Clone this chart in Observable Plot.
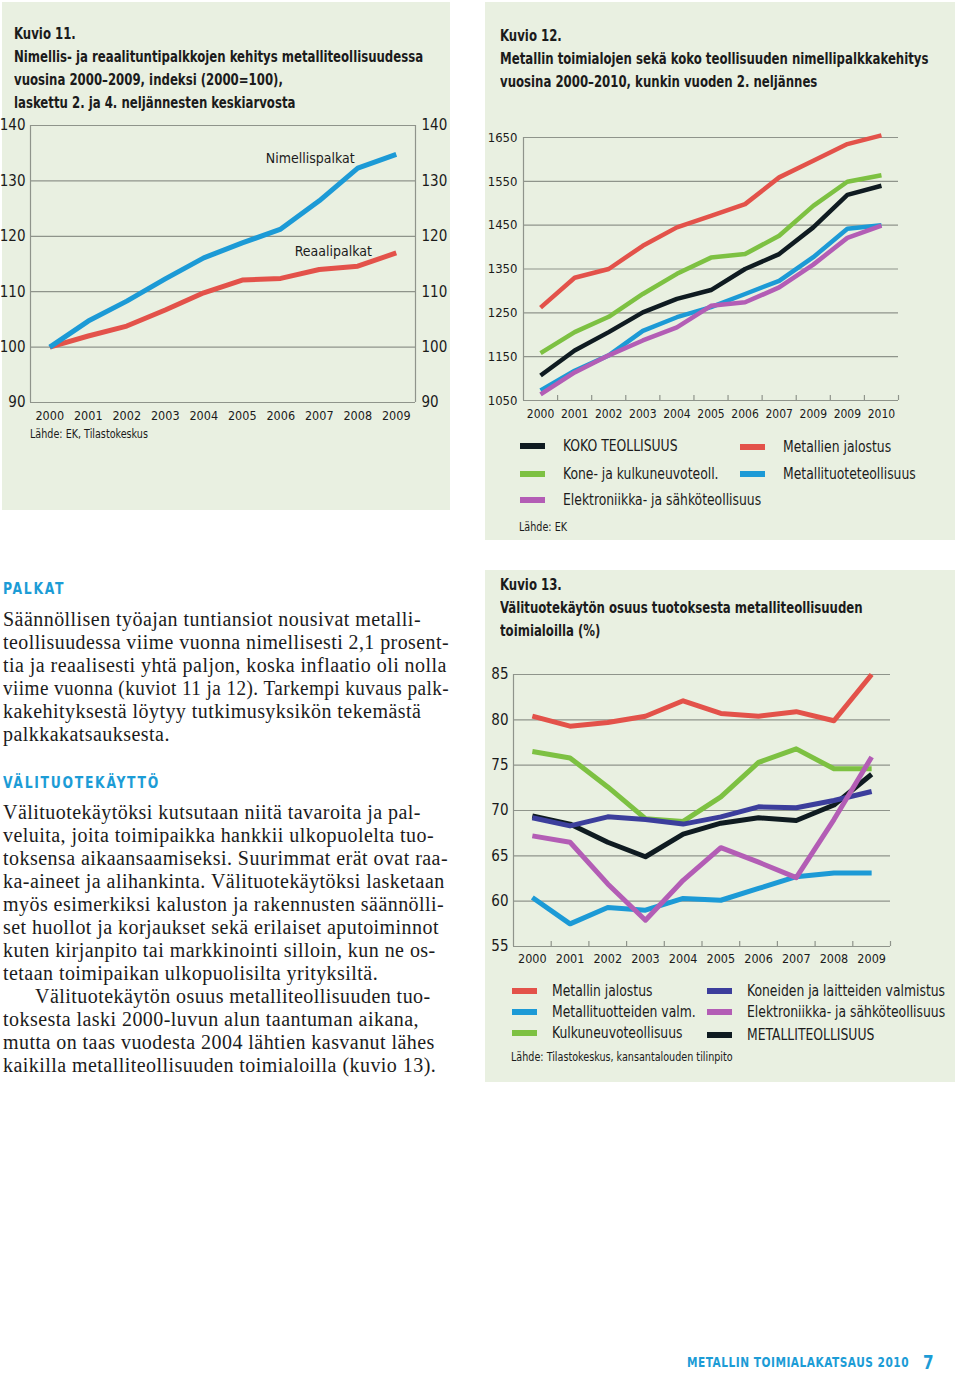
<!DOCTYPE html>
<html><head><meta charset="utf-8">
<script src="https://cdn.jsdelivr.net/npm/d3@7"></script>
<script src="https://cdn.jsdelivr.net/npm/@observablehq/plot@0.6"></script>
<style>
html,body{margin:0;padding:0}
body{width:960px;height:1377px;position:relative;background:#fff;overflow:hidden}
.panel{position:absolute;background:#e9f0e1}
.abs{position:absolute;white-space:nowrap;transform-origin:left top}
.narrow{font-family:"Liberation Sans Narrow","DejaVu Sans Condensed","Noto Sans",sans-serif}
.title{font-weight:bold;font-size:16px;line-height:23px;color:#1b1b1b;transform:scaleX(0.815)}
.src{font-size:12px;color:#1b1b1b;line-height:16px;transform:scaleX(0.89)}
.leg{font-size:16px;color:#1b1b1b;line-height:18px;transform:scaleX(0.86)}
.sw{position:absolute;width:25px;height:6px}
.head{font-weight:bold;font-size:16px;letter-spacing:2px;color:#1c9cd6;line-height:20px;transform:scaleX(0.86)}
.body{font-family:"Liberation Serif","DejaVu Serif",serif;font-size:20px;letter-spacing:0.45px;line-height:23px;color:#1b1b1b}
.ln{display:block;width:max-content;transform-origin:left top;height:23px}
.plot{position:absolute}
</style></head>
<body>
<div class="panel" style="left:2px;top:2px;width:448px;height:508px"></div>
<div class="panel" style="left:485px;top:2px;width:470px;height:538px"></div>
<div class="panel" style="left:485px;top:570px;width:470px;height:512px"></div>

<div class="abs narrow title" style="left:14px;top:22px">Kuvio 11.<br>Nimellis- ja reaalituntipalkkojen kehitys metalliteollisuudessa<br>vuosina 2000–2009, indeksi (2000=100),<br>laskettu 2. ja 4. neljännesten keskiarvosta</div>
<div id="c11" class="plot" style="left:2px;top:115px"></div>
<div class="abs narrow src" style="left:30px;top:426px">Lähde: EK, Tilastokeskus</div>

<div class="abs narrow title" style="left:500px;top:24px">Kuvio 12.<br>Metallin toimialojen sekä koko teollisuuden nimellipalkkakehitys<br>vuosina 2000–2010, kunkin vuoden 2. neljännes</div>
<div id="c12" class="plot" style="left:485px;top:125px"></div>
<div id="leg12"></div>
<div class="abs narrow src" style="left:519px;top:519px">Lähde: EK</div>

<div class="abs narrow title" style="left:500px;top:573px">Kuvio 13.<br>Välituotekäytön osuus tuotoksesta metalliteollisuuden<br>toimialoilla (%)</div>
<div id="c13" class="plot" style="left:485px;top:662px"></div>
<div id="leg13"></div>
<div class="abs narrow src" style="left:511px;top:1049px">Lähde: Tilastokeskus, kansantalouden tilinpito</div>

<div class="abs narrow head" style="left:3px;top:579px">PALKAT</div>
<div class="abs body" style="left:3px;top:608px">
<span class="ln">Säännöllisen työajan tuntiansiot nousivat metalli-</span>
<span class="ln">teollisuudessa viime vuonna nimellisesti 2,1 prosent-</span>
<span class="ln">tia ja reaalisesti yhtä paljon, koska inflaatio oli nolla</span>
<span class="ln">viime vuonna (kuviot 11 ja 12). Tarkempi kuvaus palk-</span>
<span class="ln">kakehityksestä löytyy tutkimusyksikön tekemästä</span>
<span class="ln">palkkakatsauksesta.</span>
</div>
<div class="abs narrow head" style="left:3px;top:773px">VÄLITUOTEKÄYTTÖ</div>
<div class="abs body" style="left:3px;top:801px">
<span class="ln">Välituotekäytöksi kutsutaan niitä tavaroita ja pal-</span>
<span class="ln">veluita, joita toimipaikka hankkii ulkopuolelta tuo-</span>
<span class="ln">toksensa aikaansaamiseksi. Suurimmat erät ovat raa-</span>
<span class="ln">ka-aineet ja alihankinta. Välituotekäytöksi lasketaan</span>
<span class="ln">myös esimerkiksi kaluston ja rakennusten säännölli-</span>
<span class="ln">set huollot ja korjaukset sekä erilaiset aputoiminnot</span>
<span class="ln">kuten kirjanpito tai markkinointi silloin, kun ne os-</span>
<span class="ln">tetaan toimipaikan ulkopuolisilta yrityksiltä.</span>
<span class="ln" style="padding-left:32px">Välituotekäytön osuus metalliteollisuuden tuo-</span>
<span class="ln">toksesta laski 2000-luvun alun taantuman aikana,</span>
<span class="ln">mutta on taas vuodesta 2004 lähtien kasvanut lähes</span>
<span class="ln">kaikilla metalliteollisuuden toimialoilla (kuvio 13).</span>
</div>

<div class="abs narrow" style="left:687px;top:1354px;font-weight:bold;font-size:14px;letter-spacing:0.6px;color:#1c9cd6;transform:scaleX(0.84)">METALLIN TOIMIALAKATSAUS 2010</div>
<div class="abs narrow" style="left:923px;top:1350px;font-weight:bold;font-size:20px;color:#1c9cd6;transform:scaleX(0.85)">7</div>

<script>
// ---------- Kuvio 11 ----------
const years11 = [2000,2001,2002,2003,2004,2005,2006,2007,2008,2009];
const nimellispalkat = [100,104.7,108.3,112.3,116.1,118.8,121.3,126.4,132.3,134.8];
const reaalipalkat = [100,102.0,103.8,106.7,109.8,112.1,112.4,114.0,114.6,117.0];
const yTicks11 = [90,100,110,120,130,140];

// ---------- Kuvio 12 ----------
const years12 = [2000,2001,2002,2003,2004,2005,2006,2007,2008,2009,2010];
const xLabels12 = ["2000","2001","2002","2003","2004","2005","2006","2007","2009","2009","2010"];
const kokoTeollisuus = [1107,1164,1206,1251,1282,1302,1350,1384,1445,1519,1540];
const metallienJalostus = [1262,1330,1350,1403,1445,1471,1498,1559,1597,1635,1655];
const koneJaKulkuneuvo = [1158,1206,1241,1293,1339,1376,1384,1426,1494,1549,1564];
const metallituote = [1073,1118,1153,1209,1240,1263,1293,1323,1377,1442,1450];
const elektroniikka12 = [1064,1114,1153,1187,1217,1266,1274,1308,1360,1421,1449];
const yTicks12 = [1050,1150,1250,1350,1450,1550,1650];

// ---------- Kuvio 13 ----------
const years13 = [2000,2001,2002,2003,2004,2005,2006,2007,2008,2009];
const metallinJalostus13 = [80.4,79.3,79.7,80.4,82.1,80.7,80.4,80.9,79.9,85.0];
const kulkuneuvo13 = [76.5,75.8,72.6,69.1,68.8,71.5,75.3,76.8,74.6,74.6];
const koneidenValmistus13 = [69.2,68.3,69.3,69.0,68.5,69.3,70.4,70.3,71.1,72.1];
const metalliteollisuus13 = [69.4,68.5,66.5,64.9,67.4,68.6,69.2,68.9,70.6,74.0];
const elektroniikka13 = [67.2,66.5,61.9,57.9,62.3,65.9,64.3,62.6,69.0,75.9];
const metallituotteet13 = [60.4,57.5,59.3,59.0,60.3,60.1,61.4,62.7,63.1,63.1];
const yTicks13 = [55,60,65,70,75,80,85];

const C = {red:"#e3524a", blue:"#1c9ad6", green:"#7dc142", black:"#0f1b21", magenta:"#b35db5", purple:"#3c3e9c", grid:"#8f948b"};
const FONT = '"Liberation Sans Narrow","DejaVu Sans Condensed","Noto Sans",sans-serif';

function series(years, vals, color, w) {
  return Plot.line(years.map((x,i)=>({x, y:vals[i]})), {x:"x", y:"y", stroke:color, strokeWidth:w||5, strokeLinejoin:"round", strokeLinecap:"butt"});
}
function frameMarks(years, yTicks, opts) {
  const x0 = years[0]-0.5, x1 = years[years.length-1]+0.5;
  const yMin = yTicks[0], yMax = yTicks[yTicks.length-1];
  const m = [
    Plot.ruleY(yTicks, {x1:x0, x2:x1, y:d=>d, stroke:C.grid, strokeWidth:1.2}),
    Plot.ruleX(opts.rightLine ? [x0,x1] : [x0], {x:d=>d, y1:yMin, y2:yMax, stroke:C.grid, strokeWidth:1.2}),
    Plot.text(yTicks, {x:x0, y:d=>d, text:d=>String(d), textAnchor:"end", dx:-opts.yPad, fontSize:opts.yFont, fill:"#1b1b1b"}),
    Plot.text(years, {x:d=>d, y:yMin, text:(d,i)=>opts.labels ? opts.labels[i] : String(d), dy:opts.xDy, fontSize:opts.xFont, fill:"#1b1b1b"})
  ];
  if (opts.rightLine) m.push(Plot.text(yTicks, {x:x1, y:d=>d, text:d=>String(d), textAnchor:"start", dx:opts.yPad+1, fontSize:opts.yFont, fill:"#1b1b1b"}));
  if (opts.ticks) m.push(Plot.ruleX(years.map(d=>d+0.5), {x:d=>d, y1:yMin, y2:yMin, insetTop:-5, stroke:C.grid, strokeWidth:1.2}));
  return m;
}
function mk(opts, marks) {
  return Plot.plot({
    width: opts.width, height: opts.height,
    marginLeft: opts.ml, marginRight: opts.mr, marginTop: opts.mt, marginBottom: opts.mb,
    x: {type:"linear", domain: opts.xDomain, axis: null},
    y: {type:"linear", domain: opts.yDomain, axis: null},
    style: {background:"transparent", fontFamily: FONT, overflow:"visible", color:"#1b1b1b"},
    marks
  });
}

// Kuvio 11
document.getElementById("c11").append(mk(
  {width:448, height:312, ml:28, mr:35, mt:10, mb:25, xDomain:[years11[0]-0.5, years11[years11.length-1]+0.5], yDomain:[yTicks11[0], yTicks11[yTicks11.length-1]]},
  [
    ...frameMarks(years11, yTicks11, {yPad:5, yFont:15, xFont:12.5, xDy:13, rightLine:true}),
    series(years11, reaalipalkat, C.red, 5),
    series(years11, nimellispalkat, C.blue, 5),
    Plot.text([{x:years11[7], y:nimellispalkat[7], t:"Nimellispalkat"}], {x:"x", y:"y", text:"t", dx:-9, dy:-42, fontSize:14, fill:"#1b1b1b"}),
    Plot.text([{x:years11[7], y:reaalipalkat[7], t:"Reaalipalkat"}], {x:"x", y:"y", text:"t", dx:14, dy:-18, fontSize:14, fill:"#1b1b1b"})
  ]
));

// Kuvio 12
document.getElementById("c12").append(mk(
  {width:470, height:300, ml:38, mr:57, mt:12, mb:25, xDomain:[years12[0]-0.5, years12[years12.length-1]+0.5], yDomain:[yTicks12[0], yTicks12[yTicks12.length-1]]},
  [
    ...frameMarks(years12, yTicks12, {yPad:6, yFont:13, xFont:12, xDy:14, labels:xLabels12, ticks:true}),
    series(years12, metallienJalostus, C.red, 4.5),
    series(years12, koneJaKulkuneuvo, C.green, 4.5),
    series(years12, kokoTeollisuus, C.black, 4.5),
    series(years12, metallituote, C.blue, 4.5),
    series(years12, elektroniikka12, C.magenta, 4.5)
  ]
));

// Kuvio 13
document.getElementById("c13").append(mk(
  {width:470, height:309, ml:28, mr:65, mt:12, mb:25, xDomain:[years13[0]-0.5, years13[years13.length-1]+0.5], yDomain:[yTicks13[0], yTicks13[yTicks13.length-1]]},
  [
    ...frameMarks(years13, yTicks13, {yPad:5, yFont:15, xFont:12.5, xDy:12, ticks:true}),
    series(years13, metallinJalostus13, C.red, 5),
    series(years13, kulkuneuvo13, C.green, 5),
    series(years13, metallituotteet13, C.blue, 5),
    series(years13, metalliteollisuus13, C.black, 5),
    series(years13, koneidenValmistus13, C.purple, 5),
    series(years13, elektroniikka13, C.magenta, 5)
  ]
));

// Legends
function legend(containerId, items) {
  const el = document.getElementById(containerId);
  for (const it of items) {
    const sw = document.createElement("div");
    sw.className = "sw"; sw.style.left = it.sx + "px"; sw.style.top = (it.cy - 3) + "px"; sw.style.background = it.color;
    const tx = document.createElement("div");
    tx.className = "abs narrow leg"; tx.style.left = it.tx + "px"; tx.style.top = (it.cy - 9) + "px"; tx.textContent = it.label;
    el.append(sw, tx);
  }
}
const legend12Labels = ["KOKO TEOLLISUUS","Metallien jalostus","Kone- ja kulkuneuvoteoll.","Metallituoteteollisuus","Elektroniikka- ja sähköteollisuus"];
legend("leg12", [
  {label:legend12Labels[0], color:C.black, sx:520, tx:563, cy:446},
  {label:legend12Labels[1], color:C.red, sx:740, tx:783, cy:447},
  {label:legend12Labels[2], color:C.green, sx:520, tx:563, cy:474},
  {label:legend12Labels[3], color:C.blue, sx:740, tx:783, cy:474},
  {label:legend12Labels[4], color:C.magenta, sx:520, tx:563, cy:500}
]);
const legend13Labels = ["Metallin jalostus","Koneiden ja laitteiden valmistus","Metallituotteiden valm.","Elektroniikka- ja sähköteollisuus","Kulkuneuvoteollisuus","METALLITEOLLISUUS"];
legend("leg13", [
  {label:legend13Labels[0], color:C.red, sx:512, tx:552, cy:991},
  {label:legend13Labels[1], color:C.purple, sx:707, tx:747, cy:991},
  {label:legend13Labels[2], color:C.blue, sx:512, tx:552, cy:1012},
  {label:legend13Labels[3], color:C.magenta, sx:707, tx:747, cy:1012},
  {label:legend13Labels[4], color:C.green, sx:512, tx:552, cy:1033},
  {label:legend13Labels[5], color:C.black, sx:707, tx:747, cy:1035}
]);

// keep body lines within the column width
document.querySelectorAll(".ln").forEach(el => {
  const w = el.getBoundingClientRect().width;
  if (w > 446) el.style.transform = `scaleX(${446 / w})`;
});
</script>
</body></html>
